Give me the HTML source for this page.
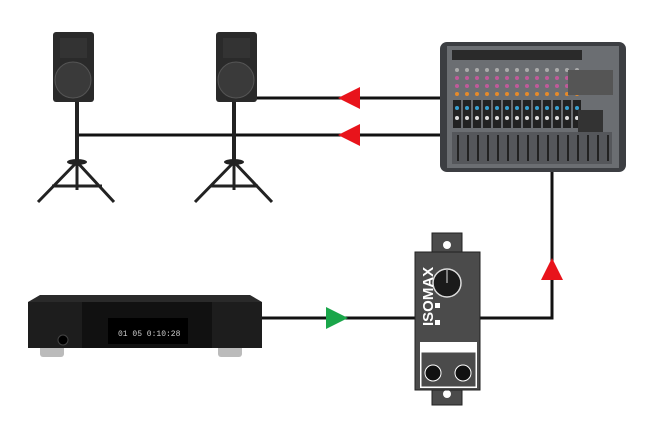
<!DOCTYPE html>
<html><head><style>body{margin:0;background:#fff}</style></head><body>
<svg width="660" height="420" xmlns="http://www.w3.org/2000/svg">
<defs>
<pattern id="ch" x="452" y="0" width="10" height="130" patternUnits="userSpaceOnUse">
<rect x="0" y="0" width="10" height="130" fill="#6b6e72"/>
<circle cx="5" cy="54" r="2.5" fill="#222"/>
<circle cx="5" cy="70" r="2" fill="#aaa"/>
<circle cx="5" cy="78" r="2" fill="#c05a9a"/>
<circle cx="5" cy="86" r="2" fill="#c05a9a"/>
<circle cx="5" cy="94" r="2" fill="#e58a2a"/>
<rect x="1" y="100" width="8" height="28" fill="#222"/>
<circle cx="5" cy="108" r="2" fill="#3aa0d0"/>
<circle cx="5" cy="118" r="2" fill="#ddd"/>
</pattern>
</defs>
<g stroke="#111" stroke-width="3" fill="none">
<line x1="255" y1="98" x2="442" y2="98"/>
<line x1="76" y1="135" x2="442" y2="135"/>
<polyline points="552,170 552,318 478,318"/>
<line x1="262" y1="318" x2="418" y2="318"/>
</g>
<polygon points="338,98 360,87 360,109" fill="#e8141b"/>
<polygon points="338,135 360,124 360,146" fill="#e8141b"/>
<polygon points="552,258 541,280 563,280" fill="#e8141b"/>
<polygon points="348,318 326,307 326,329" fill="#1aa64a"/>
<g>
<rect x="75" y="100" width="4" height="62" fill="#222"/>
<ellipse cx="77" cy="162" rx="10" ry="3" fill="#222"/>
<path d="M77 162 L38 202 M77 162 L114 202 M77 162 L77 190 M52 186 L102 186" stroke="#222" stroke-width="3" fill="none"/>
<rect x="53" y="32" width="41" height="70" rx="3" fill="#2a2a2a"/>
<circle cx="73" cy="80" r="18" fill="#3a3a3a" stroke="#555"/>
<rect x="60" y="38" width="27" height="20" fill="#333"/>
<rect x="232" y="100" width="4" height="62" fill="#222"/>
<ellipse cx="234" cy="162" rx="10" ry="3" fill="#222"/>
<path d="M234 162 L195 202 M234 162 L272 202 M234 162 L234 190 M210 186 L258 186" stroke="#222" stroke-width="3" fill="none"/>
<rect x="216" y="32" width="41" height="70" rx="3" fill="#2a2a2a"/>
<circle cx="236" cy="80" r="18" fill="#3a3a3a" stroke="#555"/>
<rect x="223" y="38" width="27" height="20" fill="#333"/>
</g>
<rect x="440" y="42" width="186" height="130" rx="7" fill="#3c3e42"/>
<rect x="447" y="46" width="172" height="122" fill="#6b6e72"/>
<rect x="452" y="48" width="130" height="82" fill="url(#ch)"/>
<g fill="#2a2a2a">
<rect x="452" y="50" width="130" height="10"/>
<rect x="568" y="70" width="45" height="25" fill="#555"/>
<rect x="578" y="110" width="25" height="22" fill="#333"/>
</g>
<rect x="452" y="132" width="160" height="32" fill="#55575b"/>
<g stroke="#222" stroke-width="2">
<path d="M458 135v26M468 135v26M478 135v26M488 135v26M498 135v26M508 135v26M518 135v26M528 135v26M538 135v26M548 135v26M558 135v26M568 135v26M578 135v26M588 135v26M598 135v26M608 135v26"/>
</g>
<rect x="40" y="345" width="24" height="12" rx="3" fill="#bbb"/>
<rect x="218" y="345" width="24" height="12" rx="3" fill="#bbb"/>
<polygon points="40,295 250,295 262,302 262,348 28,348 28,302" fill="#2a2a2a"/>
<rect x="28" y="302" width="234" height="46" fill="#1d1d1d"/>
<rect x="82" y="302" width="130" height="46" fill="#111"/>
<rect x="108" y="318" width="80" height="26" fill="#000"/>
<text x="118" y="336" font-family="Liberation Mono, monospace" font-size="8" fill="#ccc">01 05 0:10:28</text>
<circle cx="63" cy="340" r="5" fill="#000" stroke="#444"/>
<rect x="432" y="233" width="30" height="172" fill="#4b4b4b" stroke="#222"/>
<circle cx="447" cy="245" r="4" fill="#fff"/>
<circle cx="447" cy="394" r="4" fill="#fff"/>
<rect x="415" y="252" width="65" height="138" fill="#4b4b4b" stroke="#222"/>
<circle cx="447" cy="283" r="14" fill="#1a1a1a" stroke="#ddd" stroke-width="1.5"/>
<line x1="447" y1="270" x2="447" y2="283" stroke="#ddd"/>
<rect x="435" y="303" width="5" height="5" fill="#fff"/>
<rect x="435" y="320" width="5" height="5" fill="#fff"/>
<text transform="translate(433,326) rotate(-90)" font-family="Liberation Sans, sans-serif" font-weight="bold" font-size="15" fill="#fff">ISOMAX</text>
<rect x="420" y="342" width="57" height="46" fill="#fff"/>
<rect x="421" y="352" width="55" height="35" fill="#4b4b4b" stroke="#fff"/>
<circle cx="433" cy="373" r="8" fill="#111" stroke="#fff"/>
<circle cx="463" cy="373" r="8" fill="#111" stroke="#fff"/>
</svg>
</body></html>
